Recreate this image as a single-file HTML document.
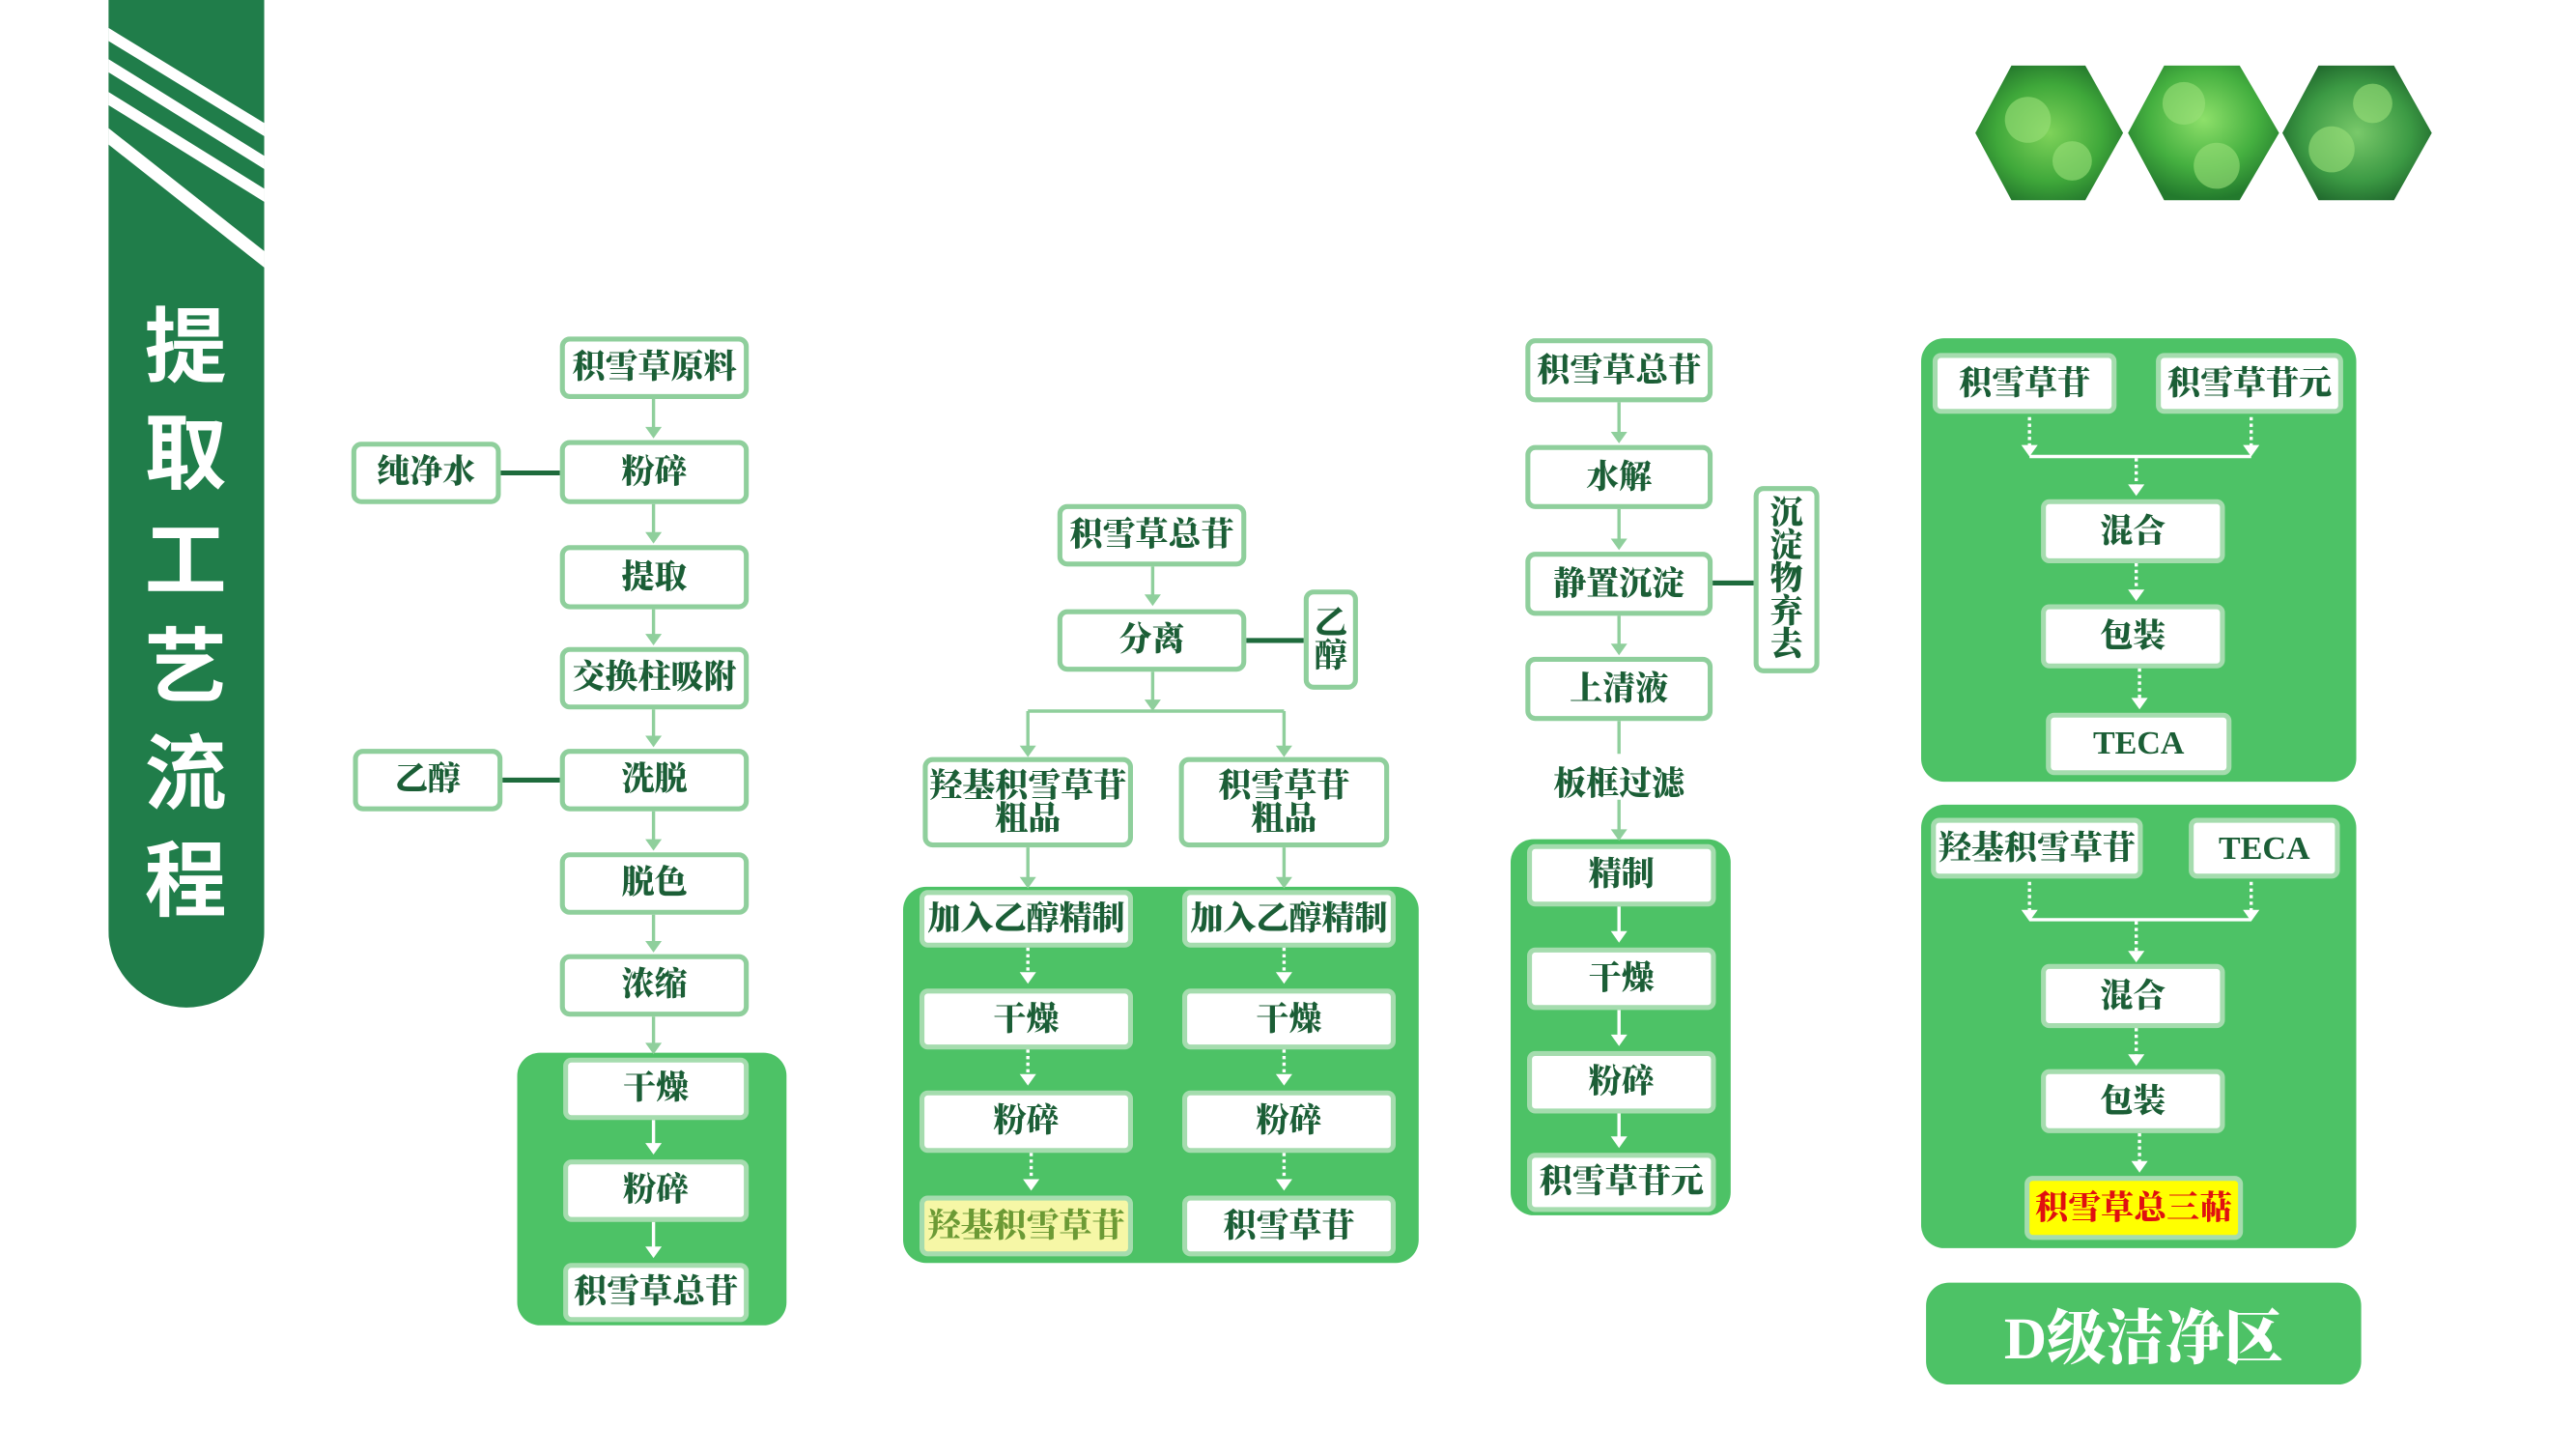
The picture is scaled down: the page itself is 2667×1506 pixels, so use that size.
<!DOCTYPE html>
<html><head><meta charset="utf-8">
<style>
html,body{margin:0;padding:0;background:#fff;overflow:hidden}
#w{position:absolute;left:0;top:0;width:1570px;height:883px;transform:translate(0,5px) scale(1.700);transform-origin:0 0;font-family:"Liberation Serif","Noto Serif CJK SC",serif;font-weight:900}
.b{position:absolute;box-sizing:border-box;background:#fff;border:3px solid #8fcf9c;border-radius:6px;display:flex;align-items:center;justify-content:center;color:#1b5e36;font-size:20px;line-height:20px;text-align:center;white-space:nowrap}
.p{position:absolute;background:#4dc266;border-radius:14px}
.i{border:3px solid #a5dcae;border-radius:5px}
.v{white-space:normal;width:40px;flex-direction:column;line-height:20px}
svg{position:absolute;left:0;top:0;overflow:visible}
</style></head><body><div id="w">
<svg width="1570" height="883">
<defs>
<clipPath id="bc"><path d="M66 -10H161V563A47.5 47.5 0 0 1 66 563Z"/></clipPath>
<radialGradient id="g1" cx="50%" cy="50%" r="60%"><stop offset="0" stop-color="#7fd35a"/><stop offset="0.6" stop-color="#3fa83a"/><stop offset="1" stop-color="#1f6f2a"/></radialGradient>
<radialGradient id="g2" cx="50%" cy="40%" r="60%"><stop offset="0" stop-color="#8ee06a"/><stop offset="0.6" stop-color="#45b040"/><stop offset="1" stop-color="#237a2d"/></radialGradient>
<radialGradient id="g3" cx="50%" cy="50%" r="60%"><stop offset="0" stop-color="#79c96a"/><stop offset="0.6" stop-color="#3c9a44"/><stop offset="1" stop-color="#1a5e28"/></radialGradient>
</defs>
<g clip-path="url(#bc)">
<rect x="66" y="-10" width="95" height="630" fill="#207d4a"/>
<polygon points="66,14 161,72 161,80 66,22" fill="#fff"/>
<polygon points="66,33 161,92 161,100 66,41" fill="#fff"/>
<polygon points="66,53 161,112 161,120 66,61" fill="#fff"/>
<polygon points="66,75 161,150 161,160 66,85" fill="#fff"/>
</g>
<g fill="#fff" font-size="50" text-anchor="middle" font-family="'Liberation Sans','Noto Sans CJK SC',sans-serif" font-weight="bold">
<text x="113" y="226">提</text><text x="113" y="291">取</text><text x="113" y="356">工</text><text x="113" y="421">艺</text><text x="113" y="486">流</text><text x="113" y="551">程</text>
</g>
<polygon points="1203,78 1225,37 1270,37 1293,78 1270,119 1225,119" fill="url(#g1)"/>
<polygon points="1296,78 1318,37 1364,37 1388,78 1364,119 1318,119" fill="url(#g2)"/>
<polygon points="1390,78 1412,37 1458,37 1481,78 1458,119 1412,119" fill="url(#g3)"/>
<g fill="#9be07a" opacity="0.6"><circle cx="1235" cy="70" r="14"/><circle cx="1262" cy="95" r="12"/><circle cx="1330" cy="60" r="13"/><circle cx="1350" cy="98" r="14"/><circle cx="1420" cy="88" r="14"/><circle cx="1445" cy="60" r="12"/></g>
</svg>

<div class="p" style="left:315px;top:638px;width:164px;height:166px"></div>
<div class="p" style="left:550px;top:537px;width:314px;height:229px"></div>
<div class="p" style="left:920px;top:508px;width:134px;height:229px"></div>
<div class="p" style="left:1170px;top:203px;width:265px;height:270px"></div>
<div class="p" style="left:1170px;top:487px;width:265px;height:270px"></div>
<div class="p" style="left:1173px;top:778px;width:265px;height:62px;display:flex;align-items:center;justify-content:center;color:#fff;font-size:36px">D级洁净区</div>

<svg width="1570" height="883">
<g stroke="#8fcf9c" stroke-width="2" fill="none">
<path d="M398 240V262M398 304V326M398 368V388M398 429V450M398 491V513M398 554V575M398 616V636"/>
<path d="M702 342V364M702 406V428M626 430H782M626 430V455M782 430V455M626 513V535M782 513V535"/>
<path d="M986 242V265M986 307V330M986 372V394M986 436V456M986 484V506"/>
</g>
<g fill="#8fcf9c">
<path d="M393 257h10l-5 7z M393 321h10l-5 7z M393 383h10l-5 7z M393 445h10l-5 7z M393 508h10l-5 7z M393 570h10l-5 7z M393 632h10l-5 7z"/>
<path d="M697 359h10l-5 7z M697 423h10l-5 7z M621 451h10l-5 7z M777 451h10l-5 7z M621 531h10l-5 7z M777 531h10l-5 7z"/>
<path d="M981 260h10l-5 7z M981 325h10l-5 7z M981 389h10l-5 7z M981 502h10l-5 7z"/>
</g>
<g stroke="#1e6b3c" stroke-width="3">
<path d="M305 285H341M306 472H341M759 387H794M1043 352H1068"/>
</g>
<g stroke="#fff" stroke-width="2" fill="none">
<path d="M398 679V697M398 741V760"/>
<path d="M986 549V568M986 612V631M986 675V693"/>
</g>
<g stroke="#fff" stroke-width="2" fill="none" stroke-dasharray="2,2">
<path d="M626 574V593M626 636V655M628 699V719M782 574V593M782 636V655M782 699V719"/>
<path d="M1236 251V272M1371 251V272M1301 276V296M1301 340V360M1303 404V426"/>
<path d="M1236 534V555M1371 534V555M1301 558V580M1301 623V643M1303 687V708"/>
</g>
<g stroke="#fff" stroke-width="2"><path d="M1236 275H1371M1236 557H1371"/></g>
<g fill="#fff">
<path d="M393 693h10l-5 7z M393 756h10l-5 7z"/>
<path d="M981 564h10l-5 7z M981 627h10l-5 7z M981 689h10l-5 7z"/>
<path d="M621 589h10l-5 7z M621 651h10l-5 7z M623 715h10l-5 7z M777 589h10l-5 7z M777 651h10l-5 7z M777 715h10l-5 7z"/>
<path d="M1231 268h10l-5 7z M1366 268h10l-5 7z M1296 292h10l-5 7z M1296 356h10l-5 7z M1298 422h10l-5 7z"/>
<path d="M1231 551h10l-5 7z M1366 551h10l-5 7z M1296 576h10l-5 7z M1296 639h10l-5 7z M1298 704h10l-5 7z"/>
</g>
</svg>

<div class="b" style="left:341px;top:202px;width:115px;height:38px">积雪草原料</div>
<div class="b" style="left:341px;top:265px;width:115px;height:39px">粉碎</div>
<div class="b" style="left:341px;top:329px;width:115px;height:39px">提取</div>
<div class="b" style="left:341px;top:391px;width:115px;height:38px">交换柱吸附</div>
<div class="b" style="left:341px;top:453px;width:115px;height:38px">洗脱</div>
<div class="b" style="left:341px;top:516px;width:115px;height:38px">脱色</div>
<div class="b" style="left:341px;top:578px;width:115px;height:38px">浓缩</div>
<div class="b i" style="left:343px;top:641px;width:113px;height:38px">干燥</div>
<div class="b i" style="left:343px;top:703px;width:113px;height:38px">粉碎</div>
<div class="b i" style="left:343px;top:766px;width:113px;height:36px">积雪草总苷</div>
<div class="b" style="left:214px;top:266px;width:91px;height:38px">纯净水</div>
<div class="b" style="left:215px;top:453px;width:91px;height:38px">乙醇</div>
<div class="b" style="left:644px;top:304px;width:115px;height:38px">积雪草总苷</div>
<div class="b" style="left:644px;top:368px;width:115px;height:38px">分离</div>
<div class="b v" style="left:794px;top:356px;width:33px;height:61px">乙<br>醇</div>
<div class="b" style="left:562px;top:458px;width:128px;height:55px;line-height:20px">羟基积雪草苷<br>粗品</div>
<div class="b" style="left:718px;top:458px;width:128px;height:55px;line-height:20px">积雪草苷<br>粗品</div>
<div class="b i" style="left:560px;top:539px;width:130px;height:35px">加入乙醇精制</div>
<div class="b i" style="left:720px;top:539px;width:130px;height:35px">加入乙醇精制</div>
<div class="b i" style="left:560px;top:599px;width:130px;height:37px">干燥</div>
<div class="b i" style="left:720px;top:599px;width:130px;height:37px">干燥</div>
<div class="b i" style="left:560px;top:661px;width:130px;height:38px">粉碎</div>
<div class="b i" style="left:720px;top:661px;width:130px;height:38px">粉碎</div>
<div class="b i" style="left:560px;top:725px;width:130px;height:37px;background:#f6f7a6;color:#6c9a35">羟基积雪草苷</div>
<div class="b i" style="left:720px;top:725px;width:130px;height:37px">积雪草苷</div>
<div class="b" style="left:929px;top:203px;width:114px;height:39px">积雪草总苷</div>
<div class="b" style="left:929px;top:268px;width:114px;height:39px">水解</div>
<div class="b" style="left:929px;top:333px;width:114px;height:39px">静置沉淀</div>
<div class="b" style="left:929px;top:397px;width:114px;height:39px">上清液</div>
<div style="position:absolute;left:929px;top:458px;width:114px;text-align:center;color:#1b5e36;font-size:20px">板框过滤</div>
<div class="b v" style="left:1068px;top:293px;width:40px;height:114px">沉<br>淀<br>物<br>弃<br>去</div>
<div class="b i" style="left:930px;top:511px;width:115px;height:38px">精制</div>
<div class="b i" style="left:930px;top:574px;width:115px;height:38px">干燥</div>
<div class="b i" style="left:930px;top:637px;width:115px;height:38px">粉碎</div>
<div class="b i" style="left:930px;top:699px;width:115px;height:36px">积雪草苷元</div>
<div class="b i" style="left:1177px;top:212px;width:112px;height:37px">积雪草苷</div>
<div class="b i" style="left:1313px;top:212px;width:114px;height:37px">积雪草苷元</div>
<div class="b i" style="left:1243px;top:301px;width:112px;height:39px">混合</div>
<div class="b i" style="left:1243px;top:365px;width:112px;height:39px">包装</div>
<div class="b i" style="left:1246px;top:431px;width:113px;height:38px">TECA</div>
<div class="b i" style="left:1176px;top:495px;width:129px;height:37px">羟基积雪草苷</div>
<div class="b i" style="left:1333px;top:495px;width:92px;height:37px">TECA</div>
<div class="b i" style="left:1243px;top:584px;width:112px;height:39px">混合</div>
<div class="b i" style="left:1243px;top:648px;width:112px;height:39px">包装</div>
<div class="b i" style="left:1233px;top:713px;width:133px;height:39px;background:#ffff00;color:#e01010">积雪草总三萜</div>
</div></body></html>
